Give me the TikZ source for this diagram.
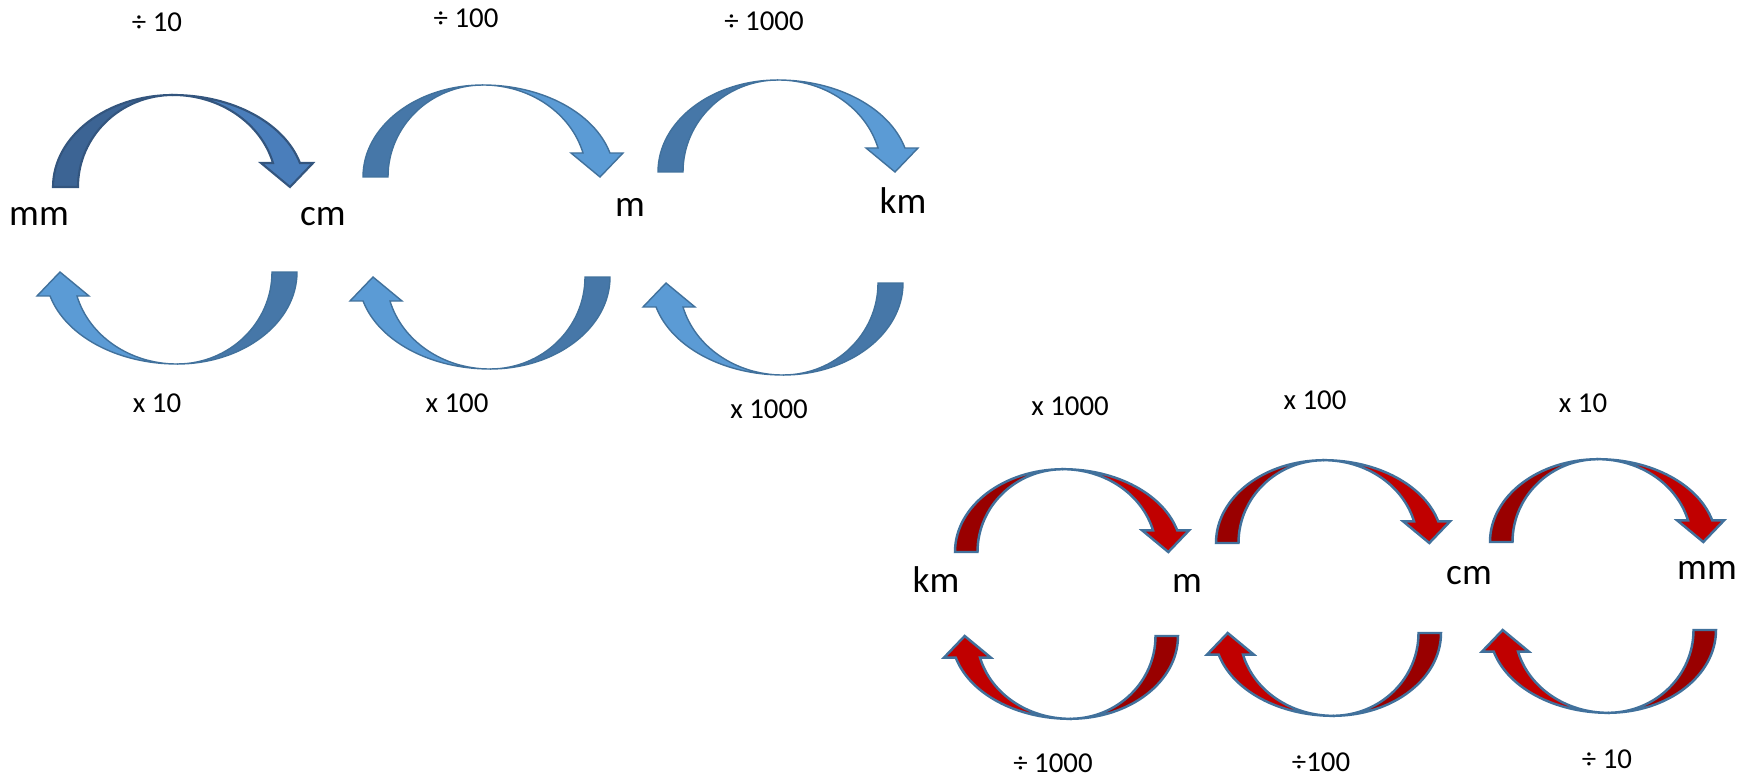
\documentclass[tikz,border=0pt]{standalone}
\usepackage{fontspec}
\setmainfont{Carlito}
\definecolor{darkback}{HTML}{3C6494}
\definecolor{darkfront}{HTML}{4A7EBB}
\definecolor{blueback}{HTML}{4677A8}
\definecolor{bluefront}{HTML}{5B9BD5}
\definecolor{redback}{HTML}{990000}
\definecolor{redfront}{HTML}{C00000}
\definecolor{edgeblue}{HTML}{41719C}
\begin{document}
\begin{tikzpicture}[x=0.01cm,y=0.01cm,
    unit/.style={anchor=base,inner sep=0pt,
          font=\fontsize{10.6}{12}\selectfont},
    factor/.style={anchor=base,inner sep=0pt,
          font=\fontsize{8.2}{9}\selectfont},
    blueedge/.style={draw=edgeblue,line width=0.4pt},
    darkedge/.style={draw=darkback!85!black,line width=0.6pt},
    rededge/.style={draw=edgeblue,line width=0.7pt},
    pics/bend/.style n args={3}{code={
      % back half of the band
      \filldraw[fill=#1,#3] (-120,0)
          arc[start angle=180,end angle=90,x radius=120,y radius=92]
          arc[start angle=90,end angle=180,x radius=95,y radius=92]
          -- cycle;
      % front half with the head
      \filldraw[fill=#2,#3] (0,92)
          arc[start angle=90,end angle=15.1,x radius=131.5,y radius=92]
          -- (140,24) -- (117,0) -- (88,24) -- (100,24)
          arc[start angle=15.1,end angle=90,x radius=103.6,y radius=92]
          -- cycle;
    }}]
    \useasboundingbox (0,0) rectangle (1748,775);

    % metric units, small to large
    \pic at (173,588) {bend={darkback}{darkfront}{darkedge}};
    \foreach \cx/\cy in {483/598,778/603}
      \pic at (\cx,\cy) {bend={blueback}{bluefront}{blueedge}};
    \foreach \cx/\cy in {177/503,490/498,783/492}
      \pic[rotate=180] at (\cx,\cy) {bend={blueback}{bluefront}{blueedge}};

    \node[unit] (mmA) at (39,550) {mm};
    \node[unit] (cmA) at (323,550) {cm};
    \node[unit] (mA) at (630,558) {m};
    \node[unit] (kmA) at (903,561) {km};

    \node[factor] (dA) at (157,743) {÷ 10};
    \node[factor] (dB) at (466,747) {÷ 100};
    \node[factor] (dC) at (764,744) {÷ 1000};
    \node[factor] (tA) at (157,363) {x 10};
    \node[factor] (tB) at (457,363) {x 100};
    \node[factor] (tC) at (769,357) {x 1000};

    % metric units, large to small
    \foreach \cx/\cy in {1063/223,1324/232,1598/233}
      \pic[scale=0.9] at (\cx,\cy) {bend={redback}{redfront}{rededge}};
    \foreach \cx/\cy in {1070/139,1333/142,1608/145}
      \pic[scale=0.9,rotate=180] at (\cx,\cy)
          {bend={redback}{redfront}{rededge}};

    \node[unit] (kmB) at (936,183) {km};
    \node[unit] (mB) at (1187,183) {m};
    \node[unit] (cmB) at (1469,191) {cm};
    \node[unit] (mmB) at (1707,196) {mm};

    \node[factor] (tD) at (1070,360) {x 1000};
    \node[factor] (tE) at (1315,366) {x 100};
    \node[factor] (tF) at (1583,363) {x 10};
    \node[factor] (dD) at (1053,3) {÷ 1000};
    \node[factor] (dE) at (1321,4) {÷100};
    \node[factor] (dF) at (1607,7) {÷ 10};
\end{tikzpicture}
\end{document}
